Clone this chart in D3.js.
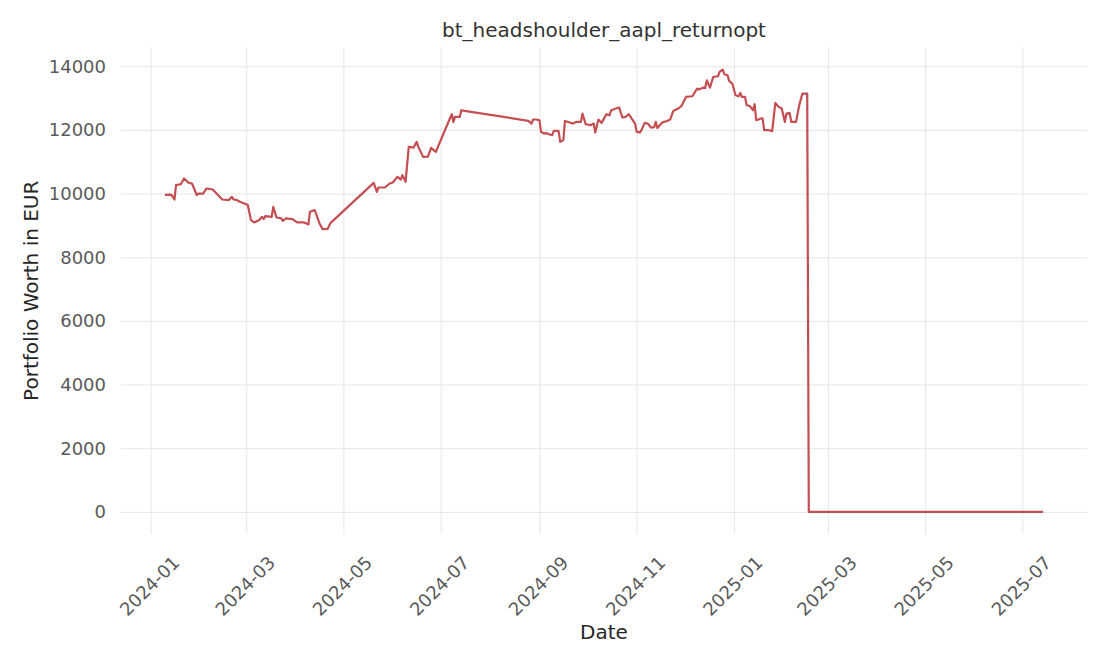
<!DOCTYPE html>
<html>
<head>
<meta charset="utf-8">
<script src="https://cdn.jsdelivr.net/npm/d3@7"></script>
<style>
  body { margin: 0; background: #fff; }
  text { font-family: "DejaVu Sans", sans-serif; }
</style>
</head>
<body>
<svg id="chart" width="1110" height="666"></svg>
<script>
// chart data
const chartTitle = "bt_headshoulder_aapl_returnopt";
const xLabel = "Date";
const yLabel = "Portfolio Worth in EUR";

const dates = [
  "2024-01-10","2024-01-14","2024-01-16","2024-01-17","2024-01-20","2024-01-22","2024-01-25","2024-01-27",
  "2024-01-30","2024-01-31","2024-02-03","2024-02-05","2024-02-09","2024-02-15","2024-02-19","2024-02-21",
  "2024-02-22","2024-02-24","2024-02-26","2024-03-01","2024-03-02","2024-03-04","2024-03-06","2024-03-09",
  "2024-03-11","2024-03-12","2024-03-13","2024-03-17","2024-03-18","2024-03-20","2024-03-23","2024-03-24",
  "2024-03-26","2024-03-30","2024-04-02","2024-04-06","2024-04-09","2024-04-10","2024-04-13","2024-04-16",
  "2024-04-18","2024-04-21","2024-04-23","2024-05-20","2024-05-22","2024-05-23","2024-05-27","2024-05-30",
  "2024-06-01","2024-06-03","2024-06-04","2024-06-06","2024-06-07","2024-06-09","2024-06-11","2024-06-14",
  "2024-06-16","2024-06-17","2024-06-20","2024-06-23","2024-06-25","2024-06-28","2024-07-05","2024-07-08",
  "2024-07-09","2024-07-10","2024-07-13","2024-07-14","2024-07-16","2024-08-25","2024-08-27","2024-08-28",
  "2024-08-30","2024-09-01","2024-09-02","2024-09-04","2024-09-05","2024-09-09","2024-09-10","2024-09-13",
  "2024-09-14","2024-09-16","2024-09-17","2024-09-20","2024-09-22","2024-09-24","2024-09-27","2024-09-28",
  "2024-09-30","2024-10-01","2024-10-03","2024-10-05","2024-10-06","2024-10-08","2024-10-10","2024-10-13",
  "2024-10-15","2024-10-16","2024-10-19","2024-10-21","2024-10-23","2024-10-25","2024-10-27","2024-10-31",
  "2024-11-01","2024-11-03","2024-11-04","2024-11-06","2024-11-08","2024-11-10","2024-11-12","2024-11-13",
  "2024-11-14","2024-11-17","2024-11-20","2024-11-22","2024-11-24","2024-11-27","2024-11-29","2024-12-02",
  "2024-12-06","2024-12-08","2024-12-09","2024-12-10","2024-12-13","2024-12-14","2024-12-15","2024-12-17",
  "2024-12-19","2024-12-22","2024-12-23","2024-12-25","2024-12-26","2024-12-28","2024-12-29","2024-12-31",
  "2025-01-02","2025-01-04","2025-01-05","2025-01-06","2025-01-08","2025-01-09","2025-01-11","2025-01-13",
  "2025-01-14","2025-01-15","2025-01-18","2025-01-19","2025-01-20","2025-01-23","2025-01-25","2025-01-27",
  "2025-01-29","2025-01-31","2025-02-02","2025-02-03","2025-02-05","2025-02-06","2025-02-09","2025-02-11",
  "2025-02-13","2025-02-16","2025-02-17","2025-07-14"
];

const worth = [
  9960, 9970, 9815, 10264, 10296, 10475, 10337, 10317,
  9951, 10003, 10000, 10160, 10128, 9815, 9794, 9898,
  9820, 9800, 9742, 9668, 9640, 9166, 9093, 9160,
  9269, 9200, 9292, 9270, 9584, 9250, 9220, 9144,
  9219, 9197, 9093, 9100, 9031, 9427, 9480, 9062,
  8883, 8890, 9081, 10337, 10055, 10192, 10192, 10317,
  10350, 10475, 10527, 10440, 10579, 10369, 11467, 11446,
  11624, 11467, 11153, 11160, 11436, 11310, 12148, 12493,
  12252, 12409, 12409, 12619, 12600, 12285, 12200, 12327,
  12327, 12300, 11938, 11886, 11900, 11834, 11969, 11969,
  11624, 11680, 12283, 12231, 12200, 12252, 12252, 12514,
  12180, 12170, 12150, 12200, 11918, 12327, 12221, 12493,
  12460, 12619, 12672, 12705, 12390, 12410, 12493, 12200,
  11938, 11918, 11991, 12221, 12200, 12075, 12090, 12252,
  12060, 12231, 12283, 12327, 12597, 12672, 12745, 13036,
  13058, 13225, 13300, 13270, 13331, 13320, 13561, 13331,
  13664, 13686, 13822, 13895, 13749, 13720, 13541, 13457,
  13090, 13058, 13162, 13040, 13036, 12776, 12750, 12619,
  12807, 12305, 12362, 12362, 11991, 11991, 11959, 12849,
  12725, 12672, 12252, 12514, 12536, 12252, 12252, 12776,
  13143, 13143, 0, 0
];

const xTickDates = ["2024-01-01","2024-03-01","2024-05-01","2024-07-01","2024-09-01",
                    "2024-11-01","2025-01-01","2025-03-01","2025-05-01","2025-07-01"];
const yTickValues = [0, 2000, 4000, 6000, 8000, 10000, 12000, 14000];

const parseDate = d3.timeParse("%Y-%m-%d");
const fmtMonth = d3.timeFormat("%Y-%m");

const plot = { left: 121, right: 1087, top: 47.5, bottom: 534 };

const points = dates.map((d, i) => ({ date: parseDate(d), value: worth[i] }));

// 5% margins like the original
const [d0, d1] = d3.extent(points, (p) => p.date);
const dPad = (d1 - d0) * 0.05;
const [v0, v1] = d3.extent(points, (p) => p.value);
const vPad = (v1 - v0) * 0.05;

const x = d3.scaleTime()
  .domain([new Date(+d0 - dPad), new Date(+d1 + dPad)])
  .range([plot.left, plot.right]);

const y = d3.scaleLinear()
  .domain([v0 - vPad, v1 + vPad])
  .range([plot.bottom, plot.top]);

const svg = d3.select("#chart");

// grid
svg.append("g")
  .attr("transform", `translate(0,${plot.bottom})`)
  .call(d3.axisBottom(x).tickValues(xTickDates.map(parseDate))
    .tickSize(-(plot.bottom - plot.top)).tickFormat(""))
  .call((g) => g.select(".domain").remove())
  .call((g) => g.selectAll("line").attr("stroke", "#e6e6e6").attr("stroke-width", 1));

svg.append("g")
  .attr("transform", `translate(${plot.left},0)`)
  .call(d3.axisLeft(y).tickValues(yTickValues)
    .tickSize(-(plot.right - plot.left)).tickFormat(""))
  .call((g) => g.select(".domain").remove())
  .call((g) => g.selectAll("line").attr("stroke", "#e6e6e6").attr("stroke-width", 1));

// tick labels
svg.append("g")
  .selectAll("text")
  .data(yTickValues)
  .enter()
  .append("text")
  .attr("x", 106)
  .attr("y", (d) => y(d))
  .attr("dy", "0.35em")
  .attr("text-anchor", "end")
  .attr("font-size", 18)
  .attr("fill", "#5a5a5a")
  .text((d) => d);

svg.append("g")
  .selectAll("text")
  .data(xTickDates.map(parseDate))
  .enter()
  .append("text")
  .attr("transform", (d) => `translate(${x(d) - 1},586) rotate(-45)`)
  .attr("dy", "0.35em")
  .attr("text-anchor", "middle")
  .attr("font-size", 18)
  .attr("fill", "#5a5a5a")
  .text((d) => fmtMonth(d));

// line
const line = d3.line()
  .x((p) => x(p.date))
  .y((p) => y(p.value));

svg.append("path")
  .datum(points)
  .attr("d", line)
  .attr("fill", "none")
  .attr("stroke", "#c44e52")
  .attr("stroke-width", 2.2)
  .attr("stroke-linejoin", "round");

// titles
svg.append("text")
  .attr("x", (plot.left + plot.right) / 2)
  .attr("y", 37)
  .attr("text-anchor", "middle")
  .attr("font-size", 20)
  .attr("fill", "#333")
  .text(chartTitle);

svg.append("text")
  .attr("x", (plot.left + plot.right) / 2)
  .attr("y", 639)
  .attr("text-anchor", "middle")
  .attr("font-size", 20)
  .attr("fill", "#262626")
  .text(xLabel);

svg.append("text")
  .attr("transform", `translate(38,${(plot.top + plot.bottom) / 2}) rotate(-90)`)
  .attr("text-anchor", "middle")
  .attr("font-size", 20)
  .attr("fill", "#262626")
  .text(yLabel);
</script>
</body>
</html>
